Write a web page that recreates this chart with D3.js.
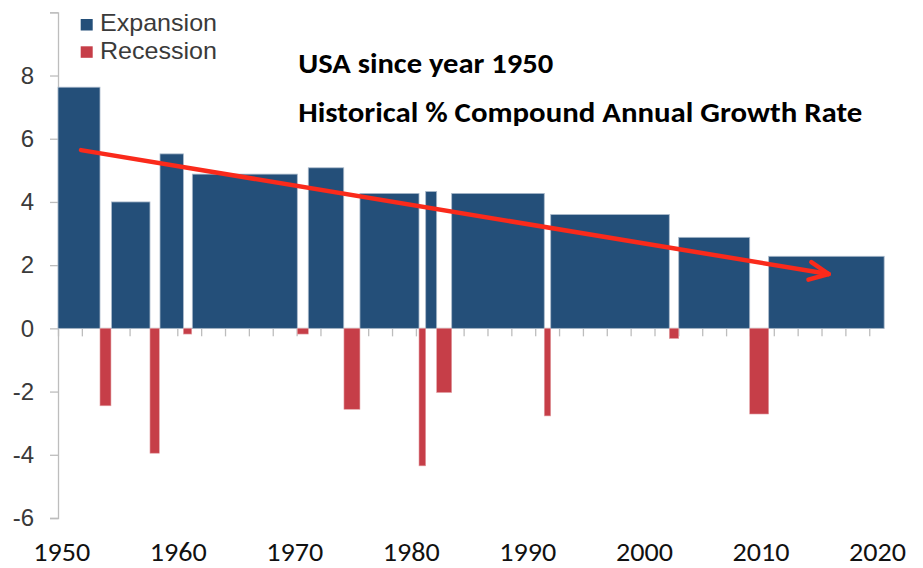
<!DOCTYPE html>
<html>
<head>
<meta charset="utf-8">
<script src="https://cdn.jsdelivr.net/npm/d3@7"></script>
<style>
  html, body { margin: 0; padding: 0; background: #fff; }
  svg { display: block; }
</style>
</head>
<body>
<svg id="chart" width="923" height="568"></svg>
<script>
// ---- Data ----
const expansionStart = [1950, 1954.49, 1958.55, 1961.26, 1970.98, 1975.31, 1980.82, 1983.0, 1991.3, 2002.03, 2009.57];
const expansionEnd   = [1953.52, 1957.71, 1960.51, 1970.06, 1973.95, 1980.26, 1981.74, 1990.76, 2001.24, 2007.98, 2019.25];
const expansionValue = [7.63, 4.0, 5.52, 4.88, 5.08, 4.27, 4.33, 4.27, 3.6, 2.88, 2.28];

const recessionStart = [1953.52, 1957.71, 1960.51, 1970.06, 1973.97, 1980.26, 1981.74, 1990.76, 2001.24, 2007.98];
const recessionEnd   = [1954.44, 1958.49, 1961.21, 1970.98, 1975.31, 1980.82, 1983.0, 1991.3, 2002.03, 2009.57];
const recessionValue = [-2.45, -3.95, -0.18, -0.18, -2.56, -4.35, -2.03, -2.77, -0.32, -2.71];

const trendYear  = [1951.93, 2014.6];
const trendValue = [5.64, 1.72];

const yTickValues = [-6, -4, -2, 0, 2, 4, 6, 8, 10];
const yTickLabels = ["-6", "-4", "-2", "0", "2", "4", "6", "8", ""];
const xMinorTicks = d3.range(1950, 2019, 2);
const yearLabels = ["1950", "1960", "1970", "1980", "1990", "2000", "2010", "2020"];

const legendLabels = ["Expansion", "Recession"];
const titleLines = ["USA since year 1950", "Historical % Compound Annual Growth Rate"];

// ---- Styles ----
const BLUE = "#244f79", RED = "#c63e48", AXIS = "#bdbdbd", ARROW = "#fa2a1b";

const svg = d3.select("#chart");

const x = d3.scaleLinear().domain([1950, 2020]).range([58, 893.1]);
const y = d3.scaleLinear().domain([-6, 10]).range([518, 12.3]);
// separate label row (overlay labels are slightly offset from the tick grid)
const xl = d3.scalePoint().domain(yearLabels).range([61.7, 877.5]);

// ---- Y axis ----
const yAxis = d3.axisLeft(y).tickValues(yTickValues)
  .tickFormat((d, i) => yTickLabels[i]).tickSizeOuter(0).tickSize(8).tickPadding(16);
const gy = svg.append("g").attr("transform", "translate(58,0)").call(yAxis);
gy.select(".domain").attr("stroke", AXIS).attr("stroke-width", 1.3);
gy.selectAll(".tick line").attr("stroke", AXIS).attr("stroke-width", 1.3);
gy.selectAll(".tick text")
  .attr("font-family", "'Liberation Sans', Arial, sans-serif")
  .attr("font-size", 24).attr("fill", "#3a3a3a");

// ---- X axis (zero line with minor ticks) ----
const xAxis = d3.axisBottom(x).tickValues(xMinorTicks).tickFormat("").tickSize(8).tickSizeOuter(0);
const gx = svg.append("g").attr("transform", `translate(0,${y(0)})`).call(xAxis);
gx.select(".domain").attr("stroke", AXIS).attr("stroke-width", 1.3)
  .attr("d", `M${x(1950)},0H${x(expansionEnd[expansionEnd.length - 1])}`);
gx.selectAll(".tick line").attr("stroke", AXIS).attr("stroke-width", 1.3);

// ---- Bars ----
const expData = expansionValue.map((v, i) => ({ s: expansionStart[i], e: expansionEnd[i], v }));
const recData = recessionValue.map((v, i) => ({ s: recessionStart[i], e: recessionEnd[i], v }));

svg.append("g").selectAll("rect").data(expData).join("rect")
  .attr("x", d => x(d.s)).attr("width", d => x(d.e) - x(d.s))
  .attr("y", d => y(d.v)).attr("height", d => y(0) - y(d.v))
  .attr("fill", BLUE).attr("stroke", "#a9b9ca").attr("stroke-width", 0.8);

svg.append("g").selectAll("rect").data(recData).join("rect")
  .attr("x", d => x(d.s)).attr("width", d => x(d.e) - x(d.s))
  .attr("y", y(0)).attr("height", d => y(d.v) - y(0))
  .attr("fill", RED).attr("stroke", "#e3a0a5").attr("stroke-width", 0.6);

// ---- Trend arrow ----
const x0 = x(trendYear[0]), y0 = y(trendValue[0]);
const x1 = x(trendYear[1]), y1 = y(trendValue[1]);
const ag = svg.append("g").attr("stroke", ARROW).attr("stroke-width", 4.5)
  .attr("stroke-linecap", "round").attr("fill", "none");
ag.append("line").attr("x1", x0).attr("y1", y0).attr("x2", x1).attr("y2", y1);
const back = Math.atan2(y0 - y1, x0 - x1);
const armLen = 21, armAng = 25 * Math.PI / 180;
[-armAng, armAng].forEach(a => {
  ag.append("line").attr("x1", x1).attr("y1", y1)
    .attr("x2", x1 + armLen * Math.cos(back + a))
    .attr("y2", y1 + armLen * Math.sin(back + a));
});

// ---- Year labels ----
svg.append("g").selectAll("text").data(yearLabels).join("text")
  .attr("x", d => xl(d)).attr("y", 561)
  .attr("text-anchor", "middle")
  .attr("font-family", "Carlito, Lato, 'Open Sans', sans-serif")
  .attr("font-size", 26.5).attr("fill", "#111")
  .attr("textLength", 57).attr("lengthAdjust", "spacingAndGlyphs")
  .text(d => d);

// ---- Legend ----
const leg = svg.append("g");
[BLUE, RED].forEach((c, i) => {
  leg.append("rect").attr("x", 80.7).attr("y", 19 + i * 27.3).attr("width", 12).attr("height", 11.5).attr("fill", c);
  leg.append("text").attr("x", 100).attr("y", 31 + i * 28)
    .attr("font-family", "'Liberation Sans', Arial, sans-serif")
    .attr("font-size", 24).attr("fill", "#3a3a3a")
    .attr("textLength", 117).attr("lengthAdjust", "spacingAndGlyphs")
    .text(legendLabels[i]);
});

// ---- Title ----
const titleWidths = [255, 564];
const titleBase = [73.3, 121.7];
titleLines.forEach((t, i) => {
  svg.append("text").attr("x", 298.3).attr("y", titleBase[i])
    .attr("font-family", "Carlito, Lato, 'Open Sans', sans-serif")
    .attr("font-weight", "bold").attr("font-size", 28).attr("fill", "#000")
    .attr("textLength", titleWidths[i]).attr("lengthAdjust", "spacingAndGlyphs")
    .text(t);
});
</script>
</body>
</html>
